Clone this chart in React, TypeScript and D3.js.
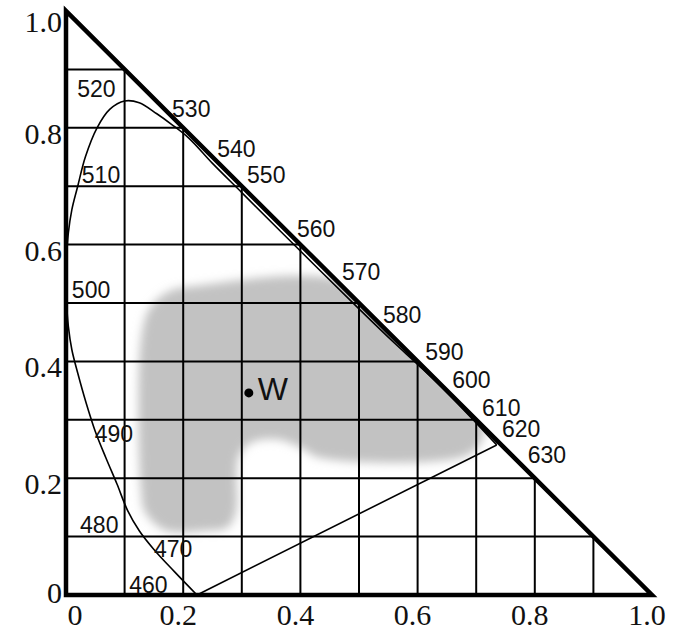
import React from 'react';
import * as d3 from 'd3';

// chromaticity grid / axes
const axisTicks = [0, 0.2, 0.4, 0.6, 0.8, 1.0];
const axisTickLabels = ['0', '0.2', '0.4', '0.6', '0.8', '1.0'];
const gridSteps = [0.1, 0.2, 0.3, 0.4, 0.5, 0.6, 0.7, 0.8, 0.9];

// spectral locus (x, y chromaticity)
const locusX = [0.2235, 0.185, 0.15, 0.125, 0.105, 0.087, 0.068, 0.05, 0.034, 0.02, 0.01, 0.004, 0.001, 0.0, 0.001, 0.004, 0.01, 0.02, 0.033, 0.053, 0.075, 0.1, 0.125, 0.155, 0.18, 0.21, 0.25, 0.3, 0.4, 0.5, 0.56, 0.6, 0.65, 0.735];
const locusY = [0.0, 0.04, 0.078, 0.11, 0.145, 0.19, 0.235, 0.28, 0.33, 0.38, 0.42, 0.46, 0.5, 0.54, 0.58, 0.62, 0.66, 0.7, 0.75, 0.8, 0.832, 0.846, 0.843, 0.824, 0.806, 0.782, 0.739, 0.689, 0.589, 0.49, 0.432, 0.395, 0.347, 0.257];

// wavelength labels and where they sit (chromaticity coords of text start / baseline)
const wavelengths = ['460', '470', '480', '490', '500', '510', '520', '530', '540', '550', '560', '570', '580', '590', '600', '610', '620', '630'];
const labelX = [0.108, 0.150, 0.024, 0.049, 0.010, 0.027, 0.019, 0.181, 0.258, 0.309, 0.394, 0.471, 0.541, 0.613, 0.659, 0.710, 0.744, 0.788];
const labelY = [0.003, 0.065, 0.106, 0.262, 0.509, 0.705, 0.853, 0.818, 0.750, 0.705, 0.613, 0.539, 0.466, 0.402, 0.354, 0.307, 0.271, 0.226];

// gray region outline
const regionX = [0.220, 0.48, 0.59, 0.71, 0.71, 0.681, 0.433, 0.399, 0.357, 0.314, 0.294, 0.290, 0.276, 0.237, 0.169, 0.135, 0.128, 0.128, 0.143, 0.174];
const regionY = [0.529, 0.535, 0.42, 0.30, 0.265, 0.238, 0.235, 0.253, 0.267, 0.260, 0.235, 0.142, 0.116, 0.110, 0.111, 0.142, 0.180, 0.437, 0.491, 0.519];

const white = { x: 0.312, y: 0.346, label: 'W' };

const W = 675;
const H = 630;

export default function App() {
  const x = d3.scaleLinear().domain([0, 1]).range([66, 652]);
  const y = d3.scaleLinear().domain([0, 1]).range([595, 11]);

  const line = d3.line<number>().x(i => x(locusX[i])).y(i => y(locusY[i])).curve(d3.curveCatmullRom.alpha(0.5));
  const locusPath = line(locusX.map((_, i) => i)) || '';

  const region = d3.line<number>()
    .x(i => x(regionX[i])).y(i => y(regionY[i]))
    .curve(d3.curveCatmullRomClosed.alpha(0.5))(regionX.map((_, i) => i)) || '';

  const tri = `M${x(0)},${y(1)}L${x(0)},${y(0)}L${x(1)},${y(0)}Z`;

  const serif = '"Liberation Serif", "Times New Roman", serif';
  const sans = '"Liberation Sans", Arial, sans-serif';

  return (
    <svg width={W} height={H} style={{ position: 'absolute', left: 0, top: 0, background: '#fff' }}>
      <defs>
        <clipPath id="triClip"><path d={tri} /></clipPath>
        <filter id="soft" x="-20%" y="-20%" width="140%" height="140%">
          <feGaussianBlur stdDeviation="5" />
        </filter>
      </defs>
      <rect width={W} height={H} fill="#fff" />

      <g clipPath="url(#triClip)">
        <path d={region} fill="#c2c2c2" filter="url(#soft)" />
      </g>

      {/* grid inside the triangle */}
      <g stroke="#000" strokeWidth={2}>
        {gridSteps.map(v => (
          <line key={'v' + v} x1={x(v)} x2={x(v)} y1={y(0)} y2={y(1 - v)} />
        ))}
        {gridSteps.map(v => (
          <line key={'h' + v} x1={x(0)} x2={x(1 - v)} y1={y(v)} y2={y(v)} />
        ))}
      </g>

      {/* spectral locus and purple line */}
      <path d={locusPath} fill="none" stroke="#000" strokeWidth={1.6} />
      <line x1={x(locusX[0])} y1={y(locusY[0])} x2={x(locusX[locusX.length - 1])} y2={y(locusY[locusY.length - 1])} stroke="#000" strokeWidth={1.6} />

      <path d={tri} fill="none" stroke="#000" strokeWidth={4.5} strokeLinejoin="miter" />

      {/* axis labels */}
      <g fontFamily={serif} fontSize={30} fill="#111">
        {axisTicks.map((v, i) => {
          const cy = v === 1 ? 22 : v === 0 ? 593 : y(v) + 6;
          return <text key={'y' + i} x={62} y={cy + 10} textAnchor="end">{axisTickLabels[i]}</text>;
        })}
        {axisTicks.map((v, i) => (
          <text key={'x' + i} x={v === 0 ? x(v) + 9 : x(v) - 5} y={625} textAnchor="middle">{axisTickLabels[i]}</text>
        ))}
      </g>

      {/* wavelength labels */}
      <g fontFamily={sans} fontSize={23} fill="#111">
        {wavelengths.map((w, i) => (
          <text key={w} x={x(labelX[i])} y={y(labelY[i])}>{w}</text>
        ))}
      </g>

      <circle cx={x(white.x)} cy={y(white.y)} r={4.5} fill="#000" />
      <text x={x(white.x) + 9} y={y(white.y) + 7} fontFamily={sans} fontSize={32} fill="#111">{white.label}</text>
    </svg>
  );
}
